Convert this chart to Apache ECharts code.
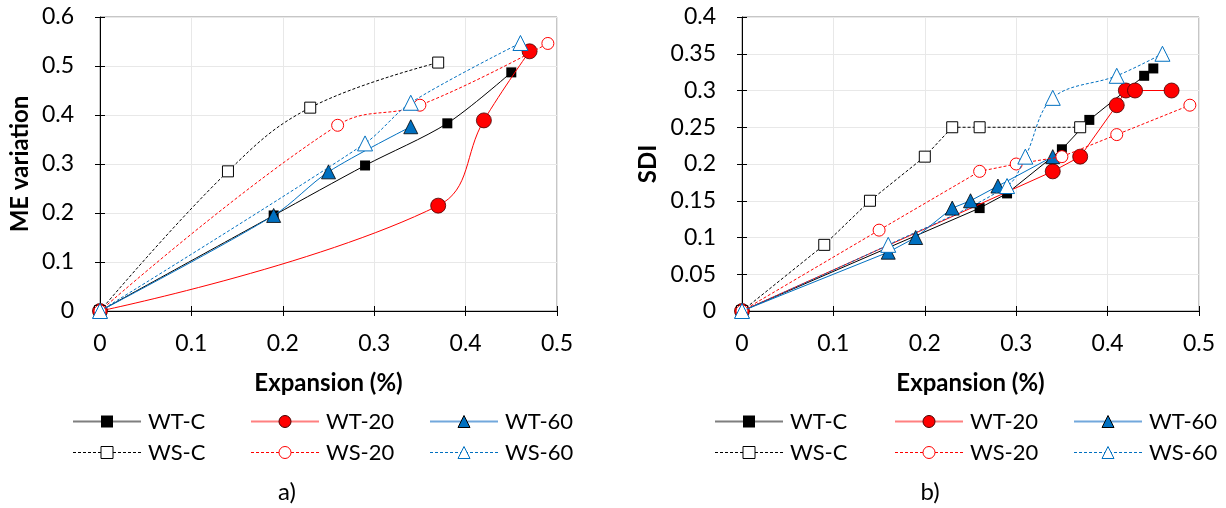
<!DOCTYPE html>
<html>
<head>
<meta charset="utf-8">
<script src="https://cdn.jsdelivr.net/npm/echarts@6/dist/echarts.min.js"></script>
<style>html,body{margin:0;padding:0;background:#fff}#c{width:1226px;height:508px}</style>
</head>
<body>
<div id="c"></div>
<script>
// ---- data: chart a) ME variation vs expansion ----
const xTicks = [0, 0.1, 0.2, 0.3, 0.4, 0.5];
const WT_C_a  = [[0,0],[0.19,0.195],[0.29,0.297],[0.38,0.383],[0.45,0.487]];
const WT_20_a = [[0,0],[0.37,0.215],[0.42,0.389],[0.47,0.530]];
const WT_60_a = [[0,0],[0.19,0.195],[0.25,0.284],[0.34,0.376]];
const WS_C_a  = [[0,0],[0.14,0.285],[0.23,0.415],[0.37,0.507]];
const WS_20_a = [[0,0],[0.26,0.379],[0.35,0.420],[0.49,0.546]];
const WS_60_a = [[0,0],[0.29,0.342],[0.34,0.425],[0.46,0.547]];
// ---- data: chart b) SDI vs expansion ----
const WT_C_b  = [[0,0],[0.26,0.14],[0.29,0.16],[0.35,0.22],[0.38,0.26],[0.44,0.32],[0.45,0.33]];
const WT_20_b = [[0,0],[0.34,0.19],[0.37,0.21],[0.41,0.28],[0.42,0.30],[0.43,0.30],[0.47,0.30]];
const WT_60_b = [[0,0],[0.16,0.08],[0.19,0.10],[0.23,0.14],[0.25,0.15],[0.28,0.17],[0.34,0.21]];
const WS_C_b  = [[0,0],[0.09,0.09],[0.14,0.15],[0.20,0.21],[0.23,0.25],[0.26,0.25],[0.37,0.25]];
const WS_20_b = [[0,0],[0.15,0.11],[0.26,0.19],[0.30,0.20],[0.35,0.21],[0.41,0.24],[0.49,0.28]];
const WS_60_b = [[0,0],[0.16,0.09],[0.29,0.17],[0.31,0.21],[0.34,0.29],[0.41,0.32],[0.46,0.35]];
const names = ['WT-C','WT-20','WT-60','WS-C','WS-20','WS-60'];

const FONT = 'Lato';
const BLUE = '#0070c0', RED = '#ff0000';
const DASH = [3, 2];

const styles = {
  'WT-C':  {symbol:'rect', symbolSize:10, itemStyle:{color:'#000'}, lineStyle:{color:'#000', width:1}},
  'WT-20': {symbol:'circle', symbolSize:15, itemStyle:{color:RED, borderColor:'#400', borderWidth:0.8}, lineStyle:{color:RED, width:1}},
  'WT-60': {symbol:'triangle', symbolSize:14, itemStyle:{color:BLUE, borderColor:'#000', borderWidth:0.8}, lineStyle:{color:BLUE, width:1}},
  'WS-C':  {symbol:'rect', symbolSize:11, itemStyle:{color:'#fff', borderColor:'#000', borderWidth:1}, lineStyle:{color:'#000', width:1, type:DASH}},
  'WS-20': {symbol:'circle', symbolSize:12, itemStyle:{color:'#fff', borderColor:RED, borderWidth:1}, lineStyle:{color:RED, width:1, type:DASH}},
  'WS-60': {symbol:'triangle', symbolSize:15, itemStyle:{color:'#fff', borderColor:BLUE, borderWidth:1}, lineStyle:{color:BLUE, width:1, type:DASH}}
};

function mk(name, data, gi, smooth) {
  const s = styles[name];
  return Object.assign({
    type:'line', name, data, xAxisIndex:gi, yAxisIndex:gi,
    smooth: smooth, showSymbol:true, animation:false, z: 2 + names.indexOf(name)
  }, JSON.parse(JSON.stringify(s)));
}

const grids = [
  {left:100, top:17, width:457, height:294, show:true, borderColor:'#8c8c8c', borderWidth:1},
  {left:742, top:17, width:457, height:294, show:true, borderColor:'#8c8c8c', borderWidth:1}
];

function xMain(gi) {
  return {type:'value', gridIndex:gi, min:0, max:0.5, interval:0.1, position:'bottom',
    name:'Expansion (%)', nameLocation:'middle', nameGap:60,
    nameTextStyle:{fontFamily:FONT, fontSize:24, fontWeight:'bold', color:'#000'},
    axisLine:{show:true, onZero:false, lineStyle:{color:'#000', width:1}},
    axisTick:{show:true, inside:false, length:5, lineStyle:{color:'#000'}},
    axisLabel:{fontFamily:FONT, fontSize:23, color:'#000', margin:21},
    splitLine:{show:true, lineStyle:{color:'#e8e8e8'}}};
}
function xTick(gi) {
  return {type:'value', gridIndex:gi, min:0, max:0.5, interval:0.1, position:'bottom',
    axisLine:{show:false}, axisTick:{show:true, inside:true, length:5, lineStyle:{color:'#000'}},
    axisLabel:{show:false}, splitLine:{show:false}};
}
function yMain(gi, max, interval, name, gap) {
  return {type:'value', gridIndex:gi, min:0, max, interval, position:'left',
    name, nameLocation:'middle', nameGap:gap,
    nameTextStyle:{fontFamily:FONT, fontSize:24, fontWeight:'bold', color:'#000'},
    axisLine:{show:true, onZero:false, lineStyle:{color:'#000', width:1}},
    axisTick:{show:true, inside:false, length:5, lineStyle:{color:'#000'}},
    axisLabel:{fontFamily:FONT, fontSize:23, color:'#000', margin:26},
    splitLine:{show:true, lineStyle:{color:'#e8e8e8'}}};
}
function yTick(gi, max, interval) {
  return {type:'value', gridIndex:gi, min:0, max, interval, position:'left',
    axisLine:{show:false}, axisTick:{show:true, inside:true, length:5, lineStyle:{color:'#000'}},
    axisLabel:{show:false}, splitLine:{show:false}};
}

const legendLine = {
  'WT-C':  {color:'#7f7f7f', width:2},
  'WT-20': {color:'#ff8080', width:2},
  'WT-60': {color:'#72a8dc', width:2},
  'WS-C':  {color:'#000', width:1, type:DASH},
  'WS-20': {color:RED, width:1, type:DASH},
  'WS-60': {color:BLUE, width:1, type:DASH}
};
function legendCol(left, pair) {
  return {left, top:410, orient:'vertical', padding:0, itemGap:8, itemWidth:68, itemHeight:15,
    selectedMode:false,
    itemStyle:{borderWidth:1},
    textStyle:{fontFamily:FONT, fontSize:22, color:'#000', lineHeight:23, padding:[0,0,0,2]},
    data: pair.map(n => ({name:n, lineStyle:legendLine[n]}))};
}

const option = {
  animation:false,
  grid: grids,
  xAxis: [xMain(0), xMain(1), xTick(0), xTick(1)],
  yAxis: [yMain(0, 0.6, 0.1, 'ME variation', 68), yMain(1, 0.4, 0.05, 'SDI', 82),
          yTick(0, 0.6, 0.1), yTick(1, 0.4, 0.05)],
  legend: [
    legendCol(72, ['WT-C','WS-C']), legendCol(250, ['WT-20','WS-20']), legendCol(429, ['WT-60','WS-60']),
    legendCol(714, ['WT-C','WS-C']), legendCol(894, ['WT-20','WS-20']), legendCol(1073, ['WT-60','WS-60'])
  ],
  graphic: [
    {type:'text', x:287, y:492, style:{text:'a)', font:'24px Lato', fill:'#000', textAlign:'center', textVerticalAlign:'middle'}},
    {type:'text', x:930, y:492, style:{text:'b)', font:'24px Lato', fill:'#000', textAlign:'center', textVerticalAlign:'middle'}}
  ],
  series: [
    mk('WT-C', WT_C_a, 0, 0.3), mk('WT-20', WT_20_a, 0, 0.4), mk('WT-60', WT_60_a, 0, 0.3),
    mk('WS-C', WS_C_a, 0, 0.4), mk('WS-20', WS_20_a, 0, 0.4), mk('WS-60', WS_60_a, 0, 0.3),
    mk('WT-C', WT_C_b, 1, false), mk('WT-20', WT_20_b, 1, false), mk('WT-60', WT_60_b, 1, false),
    mk('WS-C', WS_C_b, 1, false), mk('WS-20', WS_20_b, 1, false), mk('WS-60', WS_60_b, 1, 0.35)
  ]
};
const chart = echarts.init(document.getElementById('c'), null, {renderer:'canvas'});
chart.setOption(option);
</script>
</body>
</html>
